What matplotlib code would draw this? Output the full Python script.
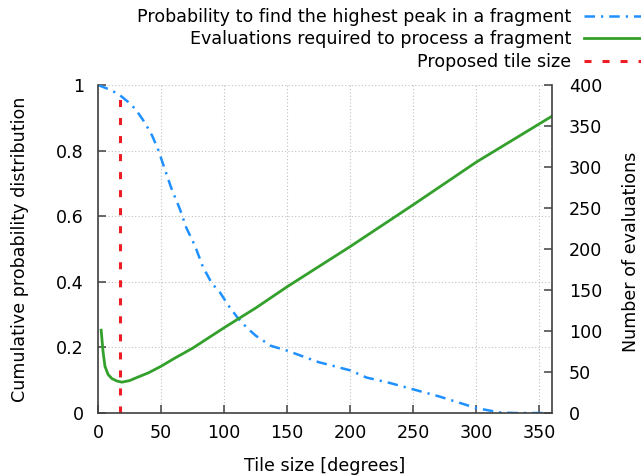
import matplotlib
matplotlib.use('Agg')
import matplotlib.pyplot as plt

# probability curve (left axis)
prob_x = [0, 10, 17, 25, 30, 37, 43, 48, 53, 58, 65, 70, 77, 83, 90, 97, 103,
          110, 118, 125, 137, 150, 175, 200, 213, 231, 250, 271, 300, 318, 330, 355]
prob_y = [1.0, 0.985, 0.97, 0.945, 0.925, 0.886, 0.845, 0.80, 0.743, 0.687,
          0.621, 0.565, 0.509, 0.447, 0.397, 0.366, 0.33, 0.294, 0.26, 0.236,
          0.205, 0.19, 0.155, 0.13, 0.108, 0.092, 0.072, 0.05, 0.015, 0.002,
          0.0, 0.0]

# evaluations curve (right axis)
eval_x = [2.5, 4, 5.5, 8, 11, 15, 19, 25, 32, 40, 50, 61, 75, 100, 125, 150,
          200, 250, 300, 360]
eval_y = [101, 75, 57, 47, 42, 39, 37.6, 39.5, 44, 49, 57, 67, 79, 104, 128,
          154, 203, 254, 306, 362]

proposed_size = 17.5
proposed_top = 0.97

x_ticks = [0, 50, 100, 150, 200, 250, 300, 350]
left_ticks = [0, 0.2, 0.4, 0.6, 0.8, 1.0]
left_labels = ['0', '0.2', '0.4', '0.6', '0.8', '1']
right_ticks = [0, 50, 100, 150, 200, 250, 300, 350, 400]

blue = '#1e90ff'
green = '#33a02c'
red = '#ee1c24'
axis_col = '#404040'
fs = 12.6

plt.rcParams['font.family'] = 'DejaVu Sans'

fig = plt.figure(figsize=(6.41, 4.75), dpi=100)
ax = fig.add_axes([98 / 641, 62 / 475, 454 / 641, 328 / 475])
ax2 = ax.twinx()

l1, = ax.plot(prob_x, prob_y, color=blue, lw=1.8, dashes=(4.2, 2.4, 0.9, 2.4),
              label='Probability to find the highest peak in a fragment')
l3, = ax.plot([proposed_size, proposed_size], [0, proposed_top], color=red,
              lw=2.2, dashes=(2.3, 3.6), label='Proposed tile size')
l2, = ax2.plot(eval_x, eval_y, color=green, lw=2.0,
               label='Evaluations required to process a fragment')

ax.set_xlim(0, 360)
ax.set_ylim(0, 1)
ax2.set_ylim(0, 400)

ax.set_xticks(x_ticks)
ax.set_yticks(left_ticks)
ax.set_yticklabels(left_labels)
ax2.set_yticks(right_ticks)

ax.grid(True, color='#c0c0c0', linestyle=(0, (1, 2)), lw=0.8)

for a in (ax, ax2):
    a.spines['top'].set_visible(False)
    for s in ('left', 'right', 'bottom'):
        a.spines[s].set_color(axis_col)
        a.spines[s].set_linewidth(1.2)
ax.spines['right'].set_visible(False)
ax2.spines['left'].set_visible(False)
ax2.spines['bottom'].set_visible(False)

ax.tick_params(axis='both', direction='in', length=6, width=1.1,
               color=axis_col, labelsize=fs, pad=8)
ax.tick_params(axis='y', pad=10)
ax2.tick_params(axis='y', direction='in', length=6, width=1.1,
                color=axis_col, labelsize=fs, pad=12)

ax.set_xlabel('Tile size [degrees]', fontsize=fs, va='center')
ax.xaxis.set_label_coords(0.5, -0.162)
ax.set_ylabel('Cumulative probability distribution', fontsize=fs, va='center')
ax.yaxis.set_label_coords(-0.172, 0.5)
ax2.set_ylabel('Number of evaluations', fontsize=fs, va='center')
ax2.yaxis.set_label_coords(1.174, 0.49)

fig.legend(handles=[l1, l2, l3], loc='upper right',
           bbox_to_anchor=(1.01, 1 - 8 / 475), frameon=False,
           markerfirst=False, fontsize=fs, handlelength=3.6,
           handletextpad=0.75, labelspacing=0.25, borderpad=0,
           borderaxespad=0)

fig.savefig('out.png', dpi=100)
